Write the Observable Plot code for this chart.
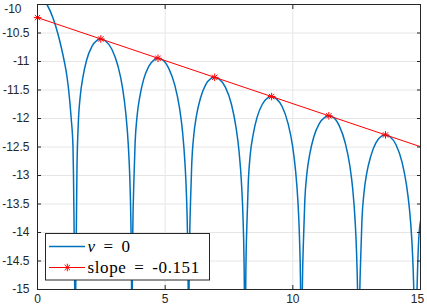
<!DOCTYPE html>
<html><head><meta charset="utf-8">
<script src="https://cdn.jsdelivr.net/npm/d3@7"></script>
<script src="https://cdn.jsdelivr.net/npm/@observablehq/plot@0.6"></script>
<style>
html,body{margin:0;padding:0;background:#fff;}
#wrap{position:relative;width:427px;height:305px;overflow:hidden;background:#fff;}
#legend{position:absolute;left:0;top:0;pointer-events:none;}
</style></head><body>
<div id="wrap"></div>
<script>
// Blue curve (nu = 0)
const curveX = [
  0, 0.2, 0.37, 0.6, 0.79, 0.93, 1.05, 1.15, 1.22, 1.32, 1.39, 1.41, 1.435, 1.458, 1.475,
  1.497, 1.52, 1.545, 1.596, 1.676, 1.777, 1.927, 2.128, 2.329, 2.48,
  2.663, 2.907, 3.151, 3.334, 3.456, 3.554, 3.615, 3.657, 3.682, 3.70,
  3.715, 3.736, 3.771, 3.822, 3.904, 4.006, 4.159, 4.363, 4.567, 4.72,
  4.90, 5.14, 5.38, 5.56, 5.68, 5.776, 5.836, 5.878, 5.902, 5.92,
  5.935, 5.956, 5.991, 6.042, 6.124, 6.226, 6.379, 6.583, 6.787, 6.94,
  7.119, 7.357, 7.595, 7.773, 7.892, 7.987, 8.047, 8.088, 8.112, 8.13,
  8.146, 8.166, 8.203, 8.255, 8.338, 8.442, 8.598, 8.806, 9.014, 9.17,
  9.346, 9.580, 9.814, 9.989, 10.106, 10.200, 10.258, 10.299, 10.322, 10.34,
  10.356, 10.377, 10.415, 10.468, 10.554, 10.661, 10.822, 11.036, 11.250, 11.41,
  11.586, 11.820, 12.053, 12.229, 12.346, 12.440, 12.498, 12.539, 12.562, 12.58,
  12.596, 12.617, 12.654, 12.706, 12.790, 12.895, 13.053, 13.263, 13.473, 13.63,
  13.806, 14.040, 14.274, 14.449, 14.566, 14.660, 14.718, 14.759, 14.782, 14.80,
  14.82, 14.84, 14.874, 14.927, 15.0
];
const curveY = [
  -9.86, -9.90, -10.0, -10.23, -10.5, -10.75, -11.0, -11.25, -11.5, -12.0, -12.5, -13.0, -14.0, -15.0, -17,
  -15.0, -14.0, -12.9, -12.11, -11.60, -11.28, -10.97, -10.74, -10.63, -10.605,
  -10.64, -10.78, -11.08, -11.47, -11.90, -12.45, -13.04, -13.80, -14.73, -17,
  -14.69, -13.84, -13.15, -12.44, -11.94, -11.62, -11.31, -11.08, -10.97, -10.943,
  -10.97, -11.12, -11.42, -11.81, -12.23, -12.79, -13.37, -14.13, -15.07, -17,
  -15.03, -14.18, -13.49, -12.78, -12.28, -11.95, -11.65, -11.41, -11.30, -11.278,
  -11.31, -11.45, -11.75, -12.15, -12.57, -13.12, -13.71, -14.47, -15.40, -17,
  -15.37, -14.52, -13.83, -13.12, -12.61, -12.29, -11.98, -11.75, -11.64, -11.615,
  -11.65, -11.79, -12.09, -12.48, -12.91, -13.46, -14.05, -14.81, -15.74, -17,
  -15.70, -14.85, -14.16, -13.45, -12.95, -12.63, -12.32, -12.09, -11.98, -11.953,
  -11.98, -12.13, -12.43, -12.82, -13.24, -13.80, -14.38, -15.14, -16.08, -17,
  -16.04, -15.19, -14.50, -13.79, -13.29, -12.96, -12.66, -12.42, -12.31, -12.288,
  -12.32, -12.46, -12.76, -13.16, -13.58, -14.13, -14.72, -15.48, -16.41, -17,
  -16.2, -15.5, -14.83, -14.15, -13.8
];
// Red fitted line (slope = -0.151)
const slopeX = [0, 15];
const slopeY = [-10.23, -12.495];
// Red asterisk markers at the peaks
const peakX = [0, 2.48, 4.72, 6.94, 9.17, 11.41, 13.63];
const peakY = [-10.23, -10.605, -10.943, -11.278, -11.615, -11.953, -12.288];
// Axis ticks
const xTicks = [0, 5, 10, 15];
const yTicks = [-15, -14.5, -14, -13.5, -13, -12.5, -12, -11.5, -11, -10.5, -10];
const legendNames = ["nu", "slope"];
const legendText = ["= 0", "slope = -0.151"];

const curve = curveX.map((x, i) => ({x, y: curveY[i]}));
const slope = slopeX.map((x, i) => ({x, y: slopeY[i]}));
const peaks = peakX.map((x, i) => ({x, y: peakY[i]}));

const asterisk = {
  draw(ctx, size) {
    const r = Math.sqrt(size / Math.PI);
    const d = r * Math.SQRT1_2;
    ctx.moveTo(-r, 0); ctx.lineTo(r, 0);
    ctx.moveTo(0, -r); ctx.lineTo(0, r);
    ctx.moveTo(-d, -d); ctx.lineTo(d, d);
    ctx.moveTo(-d, d); ctx.lineTo(d, -d);
  }
};

const axisColor = "#262626";
const fmt = d => String(d);

const svg = Plot.plot({
  width: 427,
  height: 305,
  marginLeft: 37,
  marginRight: 7,
  marginTop: 4,
  marginBottom: 16,
  style: {fontFamily: "'Liberation Sans', Arial, Helvetica, sans-serif", fontSize: "12px", color: axisColor, background: "#fff"},
  x: {domain: [0, 15], label: null},
  y: {domain: [-15, -10], label: null},
  marks: [
    Plot.gridX([5, 10], {stroke: "#e6e6e6", strokeOpacity: 1}),
    Plot.gridY(yTicks, {stroke: "#e6e6e6", strokeOpacity: 1}),
    Plot.line(curve, {x: "x", y: "y", stroke: "#0072BD", strokeWidth: 1.5, curve: "monotone-x", clip: true}),
    Plot.line(slope, {x: "x", y: "y", stroke: "#ff0000", strokeWidth: 1}),
    Plot.dot(peaks, {x: "x", y: "y", symbol: asterisk, r: 3.8, stroke: "#ff0000", strokeWidth: 1, fill: "none"}),
    Plot.frame({stroke: axisColor, strokeWidth: 1}),
    // inward ticks
    Plot.axisY(yTicks, {anchor: "left", tickSize: 4, dx: 4, fill: "none", label: null, stroke: axisColor}),
    Plot.axisY(yTicks, {anchor: "right", tickSize: 4, dx: -4, fill: "none", label: null, stroke: axisColor}),
    Plot.axisX(xTicks, {anchor: "bottom", tickSize: 4, dy: -4, fill: "none", label: null, stroke: axisColor}),
    Plot.axisX(xTicks, {anchor: "top", tickSize: 4, dy: 4, fill: "none", label: null, stroke: axisColor}),
    // labels
    Plot.axisY(yTicks, {anchor: "left", tickSize: 0, tickPadding: 8, label: null, tickFormat: fmt, fill: axisColor}),
    Plot.axisX(xTicks, {anchor: "bottom", tickSize: 0, tickPadding: 5, label: null, tickFormat: fmt, fill: axisColor})
  ]
});

d3.select(svg).selectAll("text").each(function() {
  if (this.textContent === "-10") { this.setAttribute("dx", "-8"); this.setAttribute("dy", "0.42em"); }
  if (this.textContent === "15") this.setAttribute("dx", "-3");
});

const wrap = document.getElementById("wrap");
wrap.appendChild(svg);

// Legend overlay
const lg = d3.select(wrap).append("svg")
  .attr("id", "legend").attr("width", 427).attr("height", 305);
lg.append("rect").attr("x", 45.5).attr("y", 233.5).attr("width", 164).attr("height", 46.5)
  .attr("fill", "#fff").attr("stroke", axisColor).attr("stroke-width", 1);
const rows = [
  {c: "#0072BD", w: 1.5, ly: 246.5, ty: 252.3, marker: false},
  {c: "#ff0000", w: 1, ly: 267.5, ty: 272.7, marker: true}
];
rows.forEach((r, i) => {
  lg.append("line").attr("x1", 49).attr("x2", 85).attr("y1", r.ly).attr("y2", r.ly)
    .attr("stroke", r.c).attr("stroke-width", r.w);
  if (r.marker) {
    const p = d3.path();
    asterisk.draw(p, Math.PI * 3.8 * 3.8);
    lg.append("path").attr("d", p.toString()).attr("transform", `translate(67.3,${r.ly})`)
      .attr("stroke", r.c).attr("stroke-width", 1).attr("fill", "none");
  }
  const t = lg.append("text").attr("x", 87.5).attr("y", r.ty)
    .attr("font-family", "'Liberation Serif', 'Times New Roman', serif")
    .attr("font-size", 17).attr("fill", "#000")
    .style("letter-spacing", "0.6px").style("word-spacing", "3px");
  if (legendNames[i] === "nu") {
    t.append("tspan").attr("font-style", "italic").text("ν");
    t.append("tspan").text(" " + legendText[i]);
  } else {
    t.text(legendText[i]);
  }
});
</script>
</body></html>
